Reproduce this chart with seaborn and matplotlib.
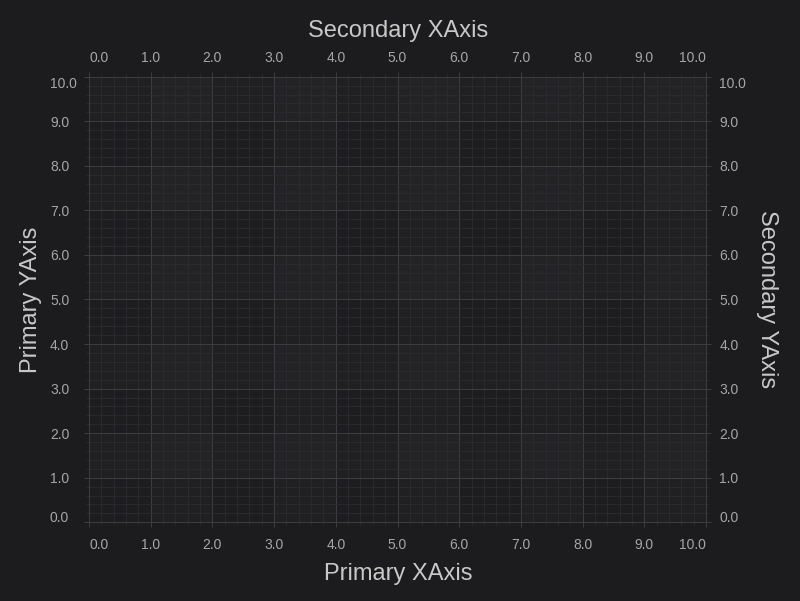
import numpy as np
import pandas as pd
import matplotlib
matplotlib.use("Agg")
import matplotlib.pyplot as plt
from matplotlib.ticker import MultipleLocator
import seaborn as sns

# ---- data ----
x_range = [0.0, 10.0]
y_range = [0.0, 10.0]
x_ticks = [0, 1, 2, 3, 4, 5, 6, 7, 8, 9, 10]
y_ticks = [0, 1, 2, 3, 4, 5, 6, 7, 8, 9, 10]
x_tick_labels = ["0.0", "1.0", "2.0", "3.0", "4.0", "5.0", "6.0", "7.0", "8.0", "9.0", "10.0"]
y_tick_labels = ["0.0", "1.0", "2.0", "3.0", "4.0", "5.0", "6.0", "7.0", "8.0", "9.0", "10.0"]
x_band_starts = [0, 2, 4, 6, 8]
y_band_starts = [0, 2, 4, 6, 8]
primary_x_title = "Primary XAxis"
secondary_x_title = "Secondary XAxis"
primary_y_title = "Primary YAxis"
secondary_y_title = "Secondary YAxis"

# ---- style ----
BG = "#1c1c1e"
PLOT_BG = "#232326"
BAND = "#18181a"
MAJOR = "#3c3c40"
MINOR = "#2c2c30"
TICK_TXT = "#a6a6aa"
TITLE_TXT = "#c8c8c8"

sns.set_theme(style="dark")
plt.rcParams["font.family"] = ["Liberation Sans", "DejaVu Sans"]

W, H = 800, 601
fig = plt.figure(figsize=(W / 100, H / 100), dpi=100, facecolor=BG)
L, R, T, B = 89, 706, 76.7, 522.3
ax = fig.add_axes([L / W, 1 - B / H, (R - L) / W, (B - T) / H])
ax.set_facecolor(PLOT_BG)

# empty series (chart has no data) drawn through seaborn
empty = pd.DataFrame({"x": pd.Series([], dtype=float), "y": pd.Series([], dtype=float)})
sns.lineplot(data=empty, x="x", y="y", ax=ax)

ax.set_xlim(*x_range)
ax.set_ylim(*y_range)

for s in x_band_starts:
    ax.axvspan(s, s + 1, color=BAND, alpha=0.25, lw=0, zorder=0.1)
for s in y_band_starts:
    ax.axhspan(s, s + 1, color=BAND, alpha=0.25, lw=0, zorder=0.1)

ax.set_axisbelow(True)
ax.xaxis.set_minor_locator(MultipleLocator(0.2))
ax.yaxis.set_minor_locator(MultipleLocator(0.2))
ax.grid(True, which="major", color=MAJOR, linewidth=0.75, zorder=0.5)
ax.grid(True, which="minor", color=MINOR, linewidth=0.6, zorder=0.4)
for sp in ax.spines.values():
    sp.set_visible(True)
    sp.set_color(MAJOR)
    sp.set_linewidth(0.75)

ax.set_xlabel("")
ax.set_ylabel("")

def style_axis(a, axis, side_pad):
    a.tick_params(axis=axis, which="major", length=3.6, width=0.75, color=MAJOR,
                  labelcolor=TICK_TXT, labelsize=10, pad=side_pad, direction="out")
    a.tick_params(axis=axis, which="minor", length=2.2, width=0.6, color=MINOR, direction="out")

# primary x (bottom)
ax.set_xticks(x_ticks, labels=x_tick_labels)
style_axis(ax, "x", 7.5)
# primary y (left)
ax.set_yticks(y_ticks, labels=y_tick_labels)
style_axis(ax, "y", 24.5)
for lab in ax.get_yticklabels():
    lab.set_horizontalalignment("left")

# secondary x (top)
axt = ax.twiny()
axt.set_xlim(*x_range)
axt.set_xticks(x_ticks, labels=x_tick_labels)
axt.xaxis.set_minor_locator(MultipleLocator(0.2))
style_axis(axt, "x", 4.8)
# secondary y (right)
axr = ax.twinx()
axr.set_ylim(*y_range)
axr.set_yticks(y_ticks, labels=y_tick_labels)
axr.yaxis.set_minor_locator(MultipleLocator(0.2))
style_axis(axr, "y", 6.0)
for a in (axt, axr):
    a.grid(False)
    for sp in a.spines.values():
        sp.set_color(MAJOR)
        sp.set_linewidth(0.75)

# edge label alignment (keep labels inside axis extent)
for a in (ax, axt):
    labs = a.get_xticklabels()
    labs[0].set_horizontalalignment("left")
    labs[-1].set_horizontalalignment("right")
for a in (ax, axr):
    labs = a.get_yticklabels()
    labs[0].set_verticalalignment("baseline")
    labs[-1].set_verticalalignment("top")

# axis titles
fig.text(398.5 / W, 1 - 574 / H, primary_x_title, ha="center", va="center",
         fontsize=17, color=TITLE_TXT)
fig.text(398.5 / W, 1 - 31 / H, secondary_x_title, ha="center", va="center",
         fontsize=17, color=TITLE_TXT)
fig.text(31 / W, 1 - 299.5 / H, primary_y_title, ha="center", va="center",
         rotation=90, fontsize=17, color=TITLE_TXT)
fig.text(767.5 / W, 1 - 299.5 / H, secondary_y_title, ha="center", va="center",
         rotation=-90, fontsize=17, color=TITLE_TXT)

fig.savefig("out.png", dpi=100, facecolor=BG)
